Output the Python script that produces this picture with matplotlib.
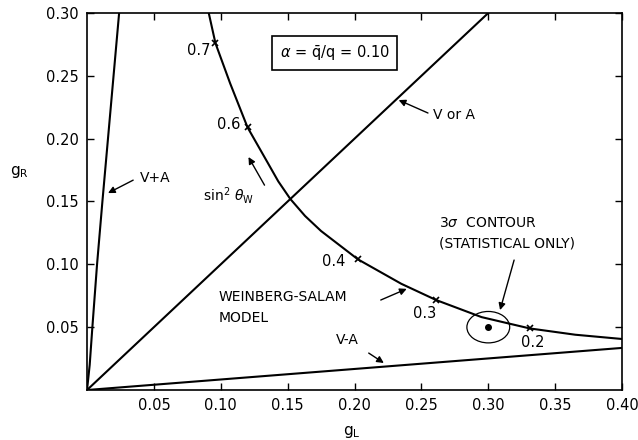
"""Weinberg-Salam curve in the (g_L, g_R) plane, alpha = 0.10."""
import matplotlib
matplotlib.use("Agg")
import matplotlib.pyplot as plt
from matplotlib.patches import Ellipse

plt.rcParams["font.family"] = "DejaVu Sans"
plt.rcParams["mathtext.fontset"] = "dejavusans"

# Weinberg-Salam curve
ws_gl = [0.091, 0.096, 0.107, 0.120, 0.135, 0.143, 0.152, 0.163, 0.175, 0.2025, 0.235,
         0.261, 0.295, 0.331, 0.365, 0.40]
ws_gr = [0.300, 0.276, 0.244, 0.209, 0.181, 0.166, 0.152, 0.1385, 0.1265, 0.104, 0.0845,
         0.0716, 0.058, 0.049, 0.0440, 0.0406]

# sin^2 theta_W marks on the curve
sin2_values = ["0.7", "0.6", "0.4", "0.3", "0.2"]
sin2_gl = [0.096, 0.120, 0.2025, 0.261, 0.331]
sin2_gr = [0.276, 0.209, 0.104, 0.0716, 0.049]

# straight(ish) lines from the origin
vpa_gl = [0.0, 0.002, 0.004, 0.0075, 0.0115, 0.024]
vpa_gr = [0.0, 0.02, 0.05, 0.10, 0.15, 0.30]
vora_gl = [0.0, 0.30]
vora_gr = [0.0, 0.30]
vma_gl = [0.0, 0.40]
vma_gr = [0.0, 0.0335]

# measured point and 3 sigma contour
meas_gl, meas_gr = 0.300, 0.050
contour_w, contour_h = 0.032, 0.025

x_ticks = [0.05, 0.10, 0.15, 0.20, 0.25, 0.30, 0.35, 0.40]
y_ticks = [0.05, 0.10, 0.15, 0.20, 0.25, 0.30]

fig = plt.figure(figsize=(6.38, 4.40), dpi=100)
ax = fig.add_axes([0.1364, 0.1136, 0.8386, 0.8569])

lw = 1.5
ax.plot(ws_gl, ws_gr, color="black", lw=lw)
ax.plot(vpa_gl, vpa_gr, color="black", lw=lw)
ax.plot(vora_gl, vora_gr, color="black", lw=lw)
ax.plot(vma_gl, vma_gr, color="black", lw=lw)
ax.plot(sin2_gl, sin2_gr, ls="none", marker="x", ms=4, mew=1.2, color="black")

ax.add_patch(Ellipse((meas_gl, meas_gr), contour_w, contour_h, fill=False,
                     ec="black", lw=0.9))
ax.plot([meas_gl], [meas_gr], "o", color="black", ms=4)

# sin^2 labels
label_x = [0.092, 0.1147, 0.1934, 0.2526, 0.333]
label_y = [0.2705, 0.211, 0.102, 0.0605, 0.038]
label_ha = ["right", "right", "right", "center", "center"]
for txt, lx, ly, ha in zip(sin2_values, label_x, label_y, label_ha):
    ax.text(lx, ly, txt, ha=ha, va="center", fontsize=10.5)

ax.text(0.185, 0.268, r"$\alpha$ = $\bar{\mathregular{q}}$/q = 0.10", ha="center",
        va="center", fontsize=10.5,
        bbox=dict(boxstyle="square,pad=0.5", fc="white", ec="black", lw=1.2))

arrow = dict(arrowstyle="-|>", color="black", lw=1.0, mutation_scale=10,
             shrinkA=0, shrinkB=0)

ax.text(0.2586, 0.219, "V or A", ha="left", va="center", fontsize=10)
ax.annotate("", xy=(0.233, 0.2307), xytext=(0.2549, 0.2204), arrowprops=arrow)

ax.text(0.0397, 0.1687, "V+A", ha="left", va="center", fontsize=10)
ax.annotate("", xy=(0.0157, 0.1567), xytext=(0.0345, 0.167), arrowprops=arrow)

ax.text(0.087, 0.155, r"sin$^2$ $\theta_\mathregular{W}$", ha="left", va="center",
        fontsize=10)
ax.annotate("", xy=(0.1207, 0.1854), xytext=(0.1327, 0.163), arrowprops=arrow)

ax.text(0.0982, 0.074, "WEINBERG-SALAM", ha="left", va="center", fontsize=10)
ax.text(0.0982, 0.057, "MODEL", ha="left", va="center", fontsize=10)
ax.annotate("", xy=(0.239, 0.0805), xytext=(0.2196, 0.0716), arrowprops=arrow)

ax.text(0.263, 0.1329, r"3$\sigma$  CONTOUR", ha="left", va="center", fontsize=10)
ax.text(0.263, 0.1162, "(STATISTICAL ONLY)", ha="left", va="center", fontsize=10)
ax.annotate("", xy=(0.3088, 0.0636), xytext=(0.3193, 0.1034), arrowprops=arrow)

ax.text(0.186, 0.0398, "V-A", ha="left", va="center", fontsize=10)
ax.annotate("", xy=(0.2219, 0.0215), xytext=(0.2106, 0.0294), arrowprops=arrow)

ax.set_xlim(0, 0.40)
ax.set_ylim(0, 0.30)
ax.set_xticks(x_ticks)
ax.set_xticklabels([f"{t:.2f}" for t in x_ticks])
ax.set_yticks(y_ticks)
ax.set_yticklabels([f"{t:.2f}" for t in y_ticks])
ax.tick_params(direction="in", top=True, right=True, length=5, width=1,
               labelsize=10.5, pad=6)
for sp in ax.spines.values():
    sp.set_linewidth(1.2)

fig.text(352 / 638, 1 - 432 / 440, r"$\mathregular{g_L}$", ha="center", va="center",
         fontsize=11)
fig.text(19 / 638, 1 - 172 / 440, r"$\mathregular{g_R}$", ha="center", va="center",
         fontsize=11)

fig.savefig("out.png", dpi=100)
